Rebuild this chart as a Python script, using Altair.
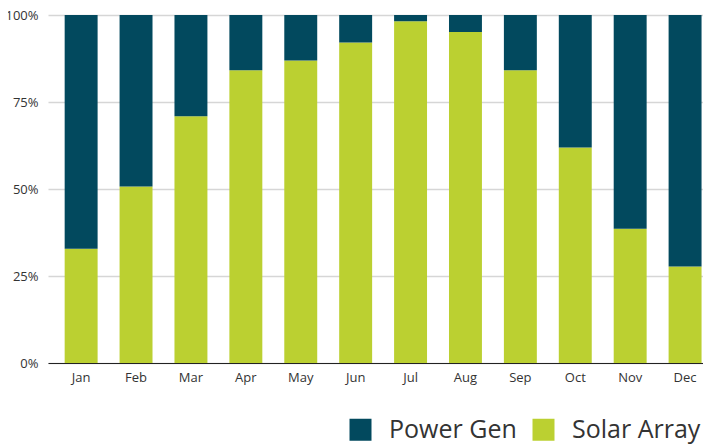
import altair as alt
import pandas as pd

months = ["Jan", "Feb", "Mar", "Apr", "May", "Jun", "Jul", "Aug", "Sep", "Oct", "Nov", "Dec"]
solar_array = [32.8, 50.7, 70.9, 84.1, 86.9, 92.1, 98.2, 95.1, 84.1, 61.9, 38.6, 27.7]
power_gen = [67.2, 49.3, 29.1, 15.9, 13.1, 7.9, 1.8, 4.9, 15.9, 38.1, 61.4, 72.3]
series = ["Power Gen", "Solar Array"]
colors = ["#02495e", "#bbd031"]

rows = []
for m, s, p in zip(months, solar_array, power_gen):
    rows.append({"month": m, "series": "Solar Array", "value": s, "ord": 0})
    rows.append({"month": m, "series": "Power Gen", "value": p, "ord": 1})
df = pd.DataFrame(rows)

FONT = "Open Sans"

chart = alt.Chart(df).mark_bar().encode(
    x=alt.X("month:N", sort=months, title=None,
            scale=alt.Scale(paddingInner=0.4, paddingOuter=0.165, align=0.92),
            axis=alt.Axis(labelAngle=0, ticks=False, domain=True, domainColor="#222222",
                          domainWidth=1, labelPadding=8, labelFontSize=13,
                          labelColor="#333333", labelFont=FONT, grid=False)),
    y=alt.Y("value:Q", stack="normalize", title=None,
            axis=alt.Axis(format=".0%", values=[0, 0.25, 0.5, 0.75, 1], ticks=False,
                          domain=False, labelPadding=10, labelFontSize=13,
                          labelColor="#333333", labelFont=FONT, grid=True,
                          gridColor="#d6d6d6", gridWidth=1.5)),
    color=alt.Color("series:N", scale=alt.Scale(domain=series, range=colors),
                    legend=alt.Legend(title=None, orient="none", legendX=300, legendY=402,
                                      direction="horizontal", symbolType="square",
                                      symbolSize=484, symbolStrokeWidth=0,
                                      labelFontSize=25, labelFont=FONT, labelColor="#333333",
                                      labelOffset=16, columnPadding=14, padding=0,
                                      labelLimit=300)),
    order=alt.Order("ord:Q"),
).properties(
    width=655,
    height=348,
    autosize=alt.AutoSizeParams(type="none"),
    padding={"left": 40, "top": 7, "right": 0, "bottom": 81},
).configure_view(stroke=None)

chart.save("out.html", embed_options={"renderer": "svg", "actions": False})
